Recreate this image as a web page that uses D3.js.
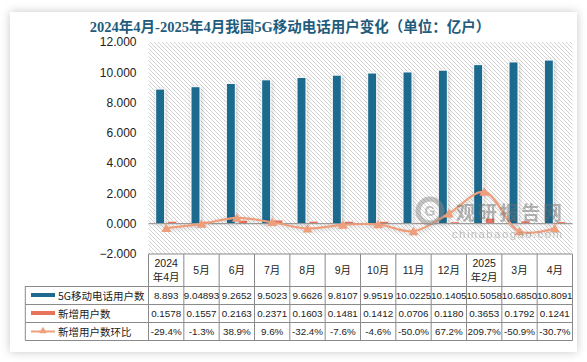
<!DOCTYPE html>
<html><head><meta charset="utf-8">
<script src="https://cdn.jsdelivr.net/npm/d3@7"></script>
<style>
html,body{margin:0;padding:0;background:#fff;}
svg{display:block;}
</style></head>
<body>
<svg id="chart" width="587" height="362"></svg>
<script>
const categories = ["2024\n年4月","5月","6月","7月","8月","9月","10月","11月","12月","2025\n年2月","3月","4月"];
const users5G = [8.893, 9.04893, 9.2652, 9.5023, 9.6626, 9.8107, 9.9519, 10.0225, 10.1405, 10.5058, 10.685, 10.8091];
const users5GLabels = ["8.893","9.04893","9.2652","9.5023","9.6626","9.8107","9.9519","10.0225","10.1405","10.5058","10.6850","10.8091"];
const newUsers = [0.1578, 0.1557, 0.2163, 0.2371, 0.1603, 0.1481, 0.1412, 0.0706, 0.1180, 0.3653, 0.1792, 0.1241];
const newUsersLabels = ["0.1578","0.1557","0.2163","0.2371","0.1603","0.1481","0.1412","0.0706","0.1180","0.3653","0.1792","0.1241"];
const momPct = [-29.4, -1.3, 38.9, 9.6, -32.4, -7.6, -4.6, -50.0, 67.2, 209.7, -50.9, -30.7];
const seriesNames = ["5G移动电话用户数","新增用户数","新增用户数环比"];
const yTicks = [-2, 0, 2, 4, 6, 8, 10, 12];
const title = "2024年4月-2025年4月我国5G移动电话用户变化（单位：亿户）";

const colors = {blue:"#1D6A8E", red:"#E8735C", line:"#EE9E7B", title:"#1F5C7C"};

const svg = d3.select("#chart");
const defs = svg.append("defs");

const f = defs.append("filter").attr("id","cardShadow").attr("x","-10%").attr("y","-10%").attr("width","120%").attr("height","120%");
f.append("feDropShadow").attr("dx",0).attr("dy",0).attr("stdDeviation",5).attr("flood-color","#000").attr("flood-opacity",0.22);
const bf = defs.append("filter").attr("id","barShadow").attr("x","-50%").attr("y","-10%").attr("width","200%").attr("height","120%");
bf.append("feDropShadow").attr("dx",1).attr("dy",1).attr("stdDeviation",2).attr("flood-color","#000").attr("flood-opacity",0.2);

const pat = defs.append("pattern").attr("id","hatch").attr("patternUnits","userSpaceOnUse")
  .attr("width",4).attr("height",4);
pat.append("rect").attr("width",4).attr("height",4).attr("fill","#fff");
pat.append("path").attr("d","M-1,-1 L5,5 M-1,3 L1,5 M3,-1 L5,1").attr("stroke","#d2d2d2").attr("stroke-width",1);

svg.append("rect").attr("x",10).attr("y",12).attr("width",567).attr("height",340)
  .attr("fill","#fff").attr("filter","url(#cardShadow)");

const plotL = 148.5, plotR = 572.5, plotT = 42, plotB = 254;

const x = d3.scaleBand().domain(d3.range(categories.length)).range([plotL, plotR]).paddingInner(0).paddingOuter(0);
const xIn = d3.scaleBand().domain([0,1]).range([-10.5, 10.5]).paddingInner(0.25);
const y = d3.scaleLinear().domain([-2, 12]).range([plotB, plotT]);

svg.append("rect").attr("x",plotL).attr("y",plotT).attr("width",plotR-plotL).attr("height",plotB-plotT)
  .attr("fill","url(#hatch)");

const yAxis = d3.axisLeft(y).tickValues(yTicks).tickFormat(d3.format(".3f")).tickSize(0).tickPadding(12);
const ya = svg.append("g").attr("transform",`translate(${plotL},0)`).call(yAxis);
ya.select(".domain").remove();
ya.selectAll("text").attr("font-family","Liberation Sans, Arial, sans-serif").attr("font-size",12).attr("fill","#222");

const bars = svg.append("g");
bars.selectAll("rect.b").data(users5G).join("rect").attr("class","b")
  .attr("x",(d,i)=>x(i)+x.bandwidth()/2+xIn(0)).attr("width",xIn.bandwidth())
  .attr("y",d=>y(d)).attr("height",d=>y(0)-y(d))
  .attr("fill",colors.blue).attr("stroke","#fff").attr("stroke-width",1).attr("filter","url(#barShadow)");
bars.selectAll("rect.r").data(newUsers).join("rect").attr("class","r")
  .attr("x",(d,i)=>x(i)+x.bandwidth()/2+xIn(1)).attr("width",xIn.bandwidth())
  .attr("y",d=>y(d)).attr("height",d=>y(0)-y(d))
  .attr("fill",colors.red).attr("stroke","#fff").attr("stroke-width",0.5);

svg.append("line").attr("x1",plotL).attr("x2",plotR).attr("y1",y(0)).attr("y2",y(0))
  .attr("stroke","#8a8a8a").attr("stroke-width",1);

const line = d3.line().x((d,i)=>x(i)+x.bandwidth()/2).y(d=>y(d/100)).curve(d3.curveCatmullRom.alpha(0.5));
svg.append("path").datum(momPct).attr("d",line).attr("fill","none").attr("stroke",colors.line).attr("stroke-width",2.2)
  .attr("filter","url(#barShadow)");
const tri = d3.symbol().type(d3.symbolTriangle).size(42);
svg.append("g").selectAll("path").data(momPct).join("path")
  .attr("d",tri).attr("transform",(d,i)=>`translate(${x(i)+x.bandwidth()/2},${y(d/100)+1})`)
  .attr("fill",colors.line);

const wm = svg.append("g").attr("opacity",0.5);
wm.append("circle").attr("cx",430).attr("cy",211).attr("r",12).attr("fill","none").attr("stroke","#8a8a8a").attr("stroke-width",5);
wm.append("text").attr("x",430).attr("y",216).attr("text-anchor","middle").attr("font-family","Liberation Sans, Arial").attr("font-weight","bold").attr("font-size",14).attr("fill","#8a8a8a").text("G");
wm.append("text").attr("x",456).attr("y",220).attr("font-family","Noto Sans CJK SC").attr("font-weight","bold").attr("font-size",19).attr("fill","#6e6e6e").attr("textLength",106).text("观研报告网");
wm.append("text").attr("x",452).attr("y",238).attr("font-family","Liberation Sans, Arial").attr("font-size",11.5).attr("fill","#8a8a8a").attr("textLength",110).text("chinabaogao.com");

svg.append("text").attr("x",290).attr("y",32).attr("text-anchor","middle")
  .attr("font-family","Liberation Serif, 'Noto Sans CJK SC', serif").attr("font-weight","bold")
  .attr("font-size",14.5).attr("fill",colors.title).text(title);

const tbl = svg.append("g");
const rowTops = [286, 304, 322, 340];
const hdrTop = 254;
const tableL = 25.3;
const bc = "#8a8a8a";
tbl.append("line").attr("x1",plotL).attr("x2",plotR).attr("y1",hdrTop).attr("y2",hdrTop).attr("stroke",bc);
rowTops.forEach(t=>tbl.append("line").attr("x1",tableL).attr("x2",plotR).attr("y1",t+0.5).attr("y2",t+0.5).attr("stroke",bc));
d3.range(categories.length+1).forEach(i=>{
  const xx = i<categories.length ? x(i) : plotR;
  tbl.append("line").attr("x1",xx).attr("x2",xx).attr("y1",hdrTop).attr("y2",340.5).attr("stroke",bc);
});
tbl.append("line").attr("x1",tableL).attr("x2",tableL).attr("y1",286).attr("y2",340.5).attr("stroke",bc);

const hdr = tbl.append("g").attr("font-family","'Liberation Sans', 'Noto Sans CJK SC', sans-serif").attr("font-size",10.5).attr("fill","#222").attr("text-anchor","middle");
categories.forEach((c,i)=>{
  const parts = c.split("\n");
  const cx = x(i)+x.bandwidth()/2;
  if(parts.length===1){
    hdr.append("text").attr("x",cx).attr("y",274).text(parts[0]);
  } else {
    hdr.append("text").attr("x",cx).attr("y",267).text(parts[0]);
    hdr.append("text").attr("x",cx).attr("y",281).text(parts[1]);
  }
});

const rows = [users5GLabels, newUsersLabels, momPct.map(v=>v.toFixed(1)+"%")];
const cellG = tbl.append("g").attr("font-family","'Liberation Sans', Arial, sans-serif").attr("font-size",9.8).attr("fill","#222").attr("text-anchor","middle");
rows.forEach((r,ri)=>{
  r.forEach((v,i)=>{
    cellG.append("text").attr("x",x(i)+x.bandwidth()/2).attr("y",rowTops[ri]+13).text(v);
  });
});

const leg = tbl.append("g");
leg.append("rect").attr("x",31).attr("y",rowTops[0]+7).attr("width",24).attr("height",4).attr("fill",colors.blue);
leg.append("rect").attr("x",31).attr("y",rowTops[1]+7).attr("width",24).attr("height",4).attr("fill",colors.red);
leg.append("line").attr("x1",31).attr("x2",55).attr("y1",rowTops[2]+9.5).attr("y2",rowTops[2]+9.5).attr("stroke",colors.line).attr("stroke-width",2);
leg.append("path").attr("d",d3.symbol().type(d3.symbolTriangle).size(24)).attr("transform",`translate(43,${rowTops[2]+9})`).attr("fill",colors.line);
seriesNames.forEach((s,i)=>{
  leg.append("text").attr("x",58).attr("y",rowTops[i]+13.5).attr("font-family","'Noto Sans CJK SC', sans-serif").attr("font-size",10.5).attr("fill","#222").text(s);
});
</script>
</body></html>
